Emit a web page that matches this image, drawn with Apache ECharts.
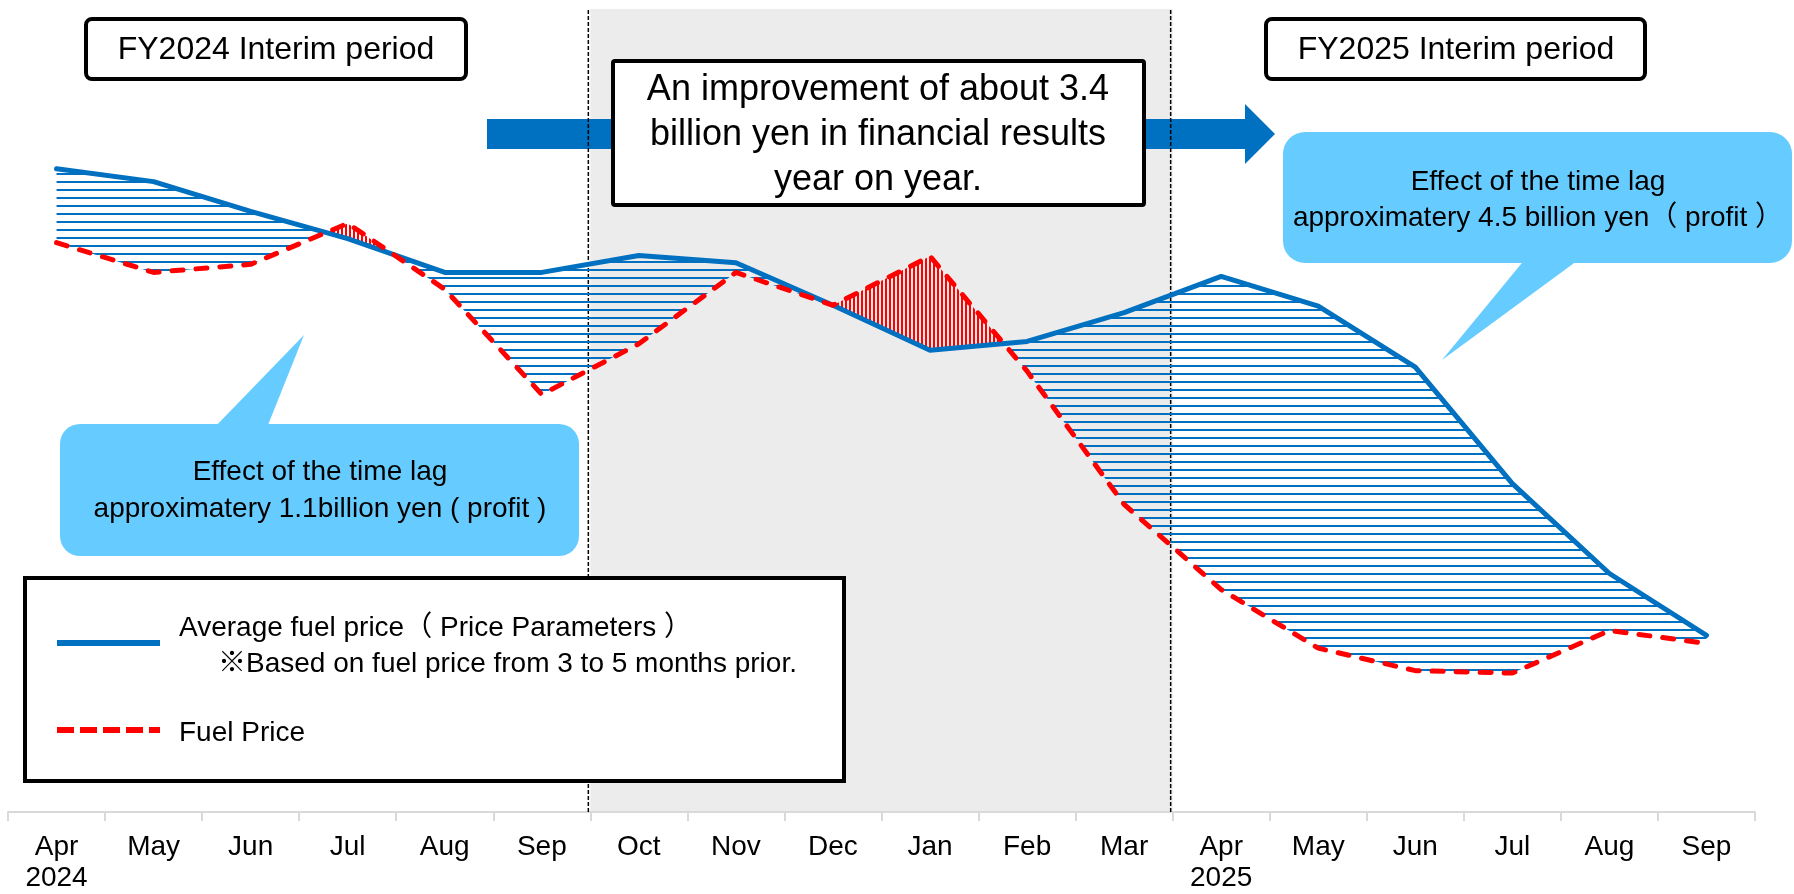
<!DOCTYPE html>
<html><head><meta charset="utf-8">
<script src="https://cdn.jsdelivr.net/npm/echarts@6/dist/echarts.min.js"></script>
<style>html,body{margin:0;padding:0;background:#fff}#c{width:1794px;height:894px}</style>
</head><body><div id="c"></div>
<script>
// ---- data ----
const categories = ['Apr\n2024','May','Jun','Jul','Aug','Sep','Oct','Nov','Dec','Jan','Feb','Mar','Apr\n2025','May','Jun','Jul','Aug','Sep'];
const averageFuelPrice = [80.1,78.5,74.8,71.4,67.2,67.2,69.3,68.4,63.1,57.5,58.6,62.2,66.7,63.0,55.4,40.9,29.7,22.0];
const fuelPrice        = [70.9,67.2,68.2,73.3,65.1,52.0,58.3,67.2,63.1,69.2,54.9,38.3,27.7,20.4,17.6,17.3,22.6,21.0];
const seriesNames = ['Average fuel price（ Price Parameters ）','Fuel Price'];
const legendNote = '※Based on fuel price from 3 to 5 months prior.';
const periodLabels = ['FY2024 Interim period','FY2025 Interim period'];
const headline = 'An improvement of about 3.4\nbillion yen in financial results\nyear on year.';
const callout1 = 'Effect of the time lag\napproximatery 1.1billion yen ( profit )';
const callout2 = 'Effect of the time lag\napproximatery 4.5 billion yen（ profit ）';

const FONT = "'Liberation Sans', Arial, 'Noto Sans CJK JP', sans-serif";
const BLUE = '#0070c0', RED = '#ff0000', BUBBLE = '#66ccff';

function makePattern(w, h, draw) {
  const c = document.createElement('canvas');
  c.width = w; c.height = h;
  draw(c.getContext('2d'));
  return { image: c, repeat: 'repeat' };
}
const blueHatch = makePattern(8, 8, ctx => { ctx.fillStyle = BLUE; ctx.fillRect(0, 5, 8, 2); });
const redHatch = makePattern(4, 4, ctx => { ctx.fillStyle = RED; ctx.fillRect(1, 0, 2, 4); });

function hatchRender(params, api) {
  if (params.dataIndex !== 0) return;
  const n = averageFuelPrice.length;
  const xs = [];
  for (let i = 0; i < n; i++) xs.push(api.coord([i, 0])[0]);
  const ypx = v => api.coord([0, v])[1];
  const xpx = x => { const i = Math.min(Math.floor(x), n - 2); return xs[i] + (x - i) * (xs[i + 1] - xs[i]); };
  const pts = [];
  for (let i = 0; i < n; i++) {
    pts.push({ x: i, b: averageFuelPrice[i], r: fuelPrice[i] });
    if (i < n - 1) {
      const d0 = averageFuelPrice[i] - fuelPrice[i], d1 = averageFuelPrice[i + 1] - fuelPrice[i + 1];
      if (d0 * d1 < 0) {
        const t = d0 / (d0 - d1);
        const v = averageFuelPrice[i] + t * (averageFuelPrice[i + 1] - averageFuelPrice[i]);
        pts.push({ x: i + t, b: v, r: v });
      }
    }
  }
  const children = [];
  const emit = reg => {
    let s = 0; reg.forEach(p => s += p.b - p.r);
    if (Math.abs(s) < 1e-9) return;
    const poly = reg.map(p => [xpx(p.x), ypx(p.b)]).concat(reg.slice().reverse().map(p => [xpx(p.x), ypx(p.r)]));
    children.push({ type: 'polygon', shape: { points: poly }, style: { fill: s > 0 ? blueHatch : redHatch, stroke: null } });
  };
  let region = [pts[0]];
  for (let k = 1; k < pts.length; k++) {
    region.push(pts[k]);
    if (Math.abs(pts[k].b - pts[k].r) < 1e-9 || k === pts.length - 1) {
      if (region.length >= 2) emit(region);
      region = [pts[k]];
    }
  }
  return { type: 'group', children };
}

const chart = echarts.init(document.getElementById('c'), null, { renderer: 'canvas', width: 1794, height: 894 });
const option = {
  animation: false,
  backgroundColor: '#ffffff',
  grid: { left: 8, right: 39, top: 9, bottom: 80, containLabel: false },
  xAxis: {
    type: 'category', data: categories, boundaryGap: true,
    axisLine: { lineStyle: { color: '#d9d9d9', width: 2 } },
    axisTick: { show: true, length: 9, interval: 0, lineStyle: { color: '#d9d9d9', width: 2 } },
    axisLabel: { interval: 0, color: '#000', fontSize: 28, lineHeight: 31, margin: 20, fontFamily: FONT },
    splitLine: { show: false }
  },
  yAxis: { type: 'value', min: 0, max: 100, show: false, splitLine: { show: false } },
  series: [
    { type: 'custom', z: 10, silent: true, renderItem: hatchRender, data: [[0, 0]], clip: false },
    { name: seriesNames[0], type: 'line', z: 11, data: averageFuelPrice, symbol: 'none', silent: true,
      lineStyle: { color: BLUE, width: 5, cap: 'round' } },
    { name: seriesNames[1], type: 'line', z: 12, data: fuelPrice, symbol: 'none', silent: true,
      lineStyle: { color: RED, width: 5, type: [11, 13], cap: 'round' } }
  ]
};
chart.setOption(option);

const cx = i => chart.convertToPixel({ xAxisIndex: 0 }, i);
const step = cx(6) - cx(5);
const b1 = cx(5) + step / 2, b2 = cx(11) + step / 2;
const yTop = chart.convertToPixel({ yAxisIndex: 0 }, 100);
const yBot = chart.convertToPixel({ yAxisIndex: 0 }, 0);

function txt(text, x, y, size, align, lh, z) {
  return { type: 'text', z: z || 30, silent: true,
    style: { text, x, y, fill: '#000', fontSize: size, fontFamily: FONT,
      textAlign: align || 'center', align: align || 'center', textVerticalAlign: 'middle', verticalAlign: 'middle', lineHeight: lh || size * 1.2 } };
}

chart.setOption({
  graphic: [
    { type: 'rect', z: 0, silent: true, shape: { x: b1, y: yTop, width: b2 - b1, height: yBot - yTop }, style: { fill: '#ececec' } },
    { type: 'polygon', z: 1, silent: true, shape: { points: [[487,119],[1245,119],[1245,104],[1275,134],[1245,164],[1245,149],[487,149]] }, style: { fill: BLUE } },
    { type: 'line', z: 2, silent: true, shape: { x1: b1 - 2, y1: yTop + 1, x2: b1 - 2, y2: yBot }, style: { stroke: '#000', lineWidth: 1.5, lineDash: [4, 2] } },
    { type: 'line', z: 2, silent: true, shape: { x1: b2 - 2, y1: yTop + 1, x2: b2 - 2, y2: yBot }, style: { stroke: '#000', lineWidth: 1.5, lineDash: [4, 2] } },
    // period boxes
    { type: 'rect', z: 30, silent: true, shape: { x: 86, y: 19, width: 380, height: 60, r: 6 }, style: { fill: '#fff', stroke: '#000', lineWidth: 4 } },
    txt(periodLabels[0], 276, 50, 32),
    { type: 'rect', z: 30, silent: true, shape: { x: 1266, y: 19, width: 379, height: 60, r: 6 }, style: { fill: '#fff', stroke: '#000', lineWidth: 4 } },
    txt(periodLabels[1], 1456, 50, 32),
    // headline box
    { type: 'rect', z: 30, silent: true, shape: { x: 613, y: 61, width: 531, height: 144, r: 2 }, style: { fill: '#fff', stroke: '#000', lineWidth: 4 } },
    txt(headline, 878, 135, 36, 'center', 45),
    // callout 1
    { type: 'rect', z: 30, silent: true, shape: { x: 60, y: 424, width: 519, height: 132, r: 20 }, style: { fill: BUBBLE } },
    { type: 'polygon', z: 30, silent: true, shape: { points: [[212, 430], [266, 430], [304, 335]] }, style: { fill: BUBBLE } },
    txt(callout1, 320, 491, 28, 'center', 37),
    // callout 2
    { type: 'rect', z: 30, silent: true, shape: { x: 1283, y: 132, width: 509, height: 131, r: 22 }, style: { fill: BUBBLE } },
    { type: 'polygon', z: 30, silent: true, shape: { points: [[1526, 258], [1581, 258], [1442, 360]] }, style: { fill: BUBBLE } },
    txt(callout2, 1538, 200, 28, 'center', 36),
    // legend box
    { type: 'rect', z: 30, silent: true, shape: { x: 25, y: 578, width: 819, height: 203 }, style: { fill: '#fff', stroke: '#000', lineWidth: 4 } },
    { type: 'line', z: 31, silent: true, shape: { x1: 57, y1: 643, x2: 160, y2: 643 }, style: { stroke: BLUE, lineWidth: 6 } },
    txt(seriesNames[0], 179, 628, 28, 'left', 32, 31),
    txt(legendNote, 218, 664, 28, 'left', 32, 31),
    { type: 'line', z: 31, silent: true, shape: { x1: 57, y1: 730, x2: 160, y2: 730 }, style: { stroke: RED, lineWidth: 6, lineDash: [17, 6] } },
    txt(seriesNames[1], 179, 733, 28, 'left', 32, 31)
  ]
});
</script></body></html>
